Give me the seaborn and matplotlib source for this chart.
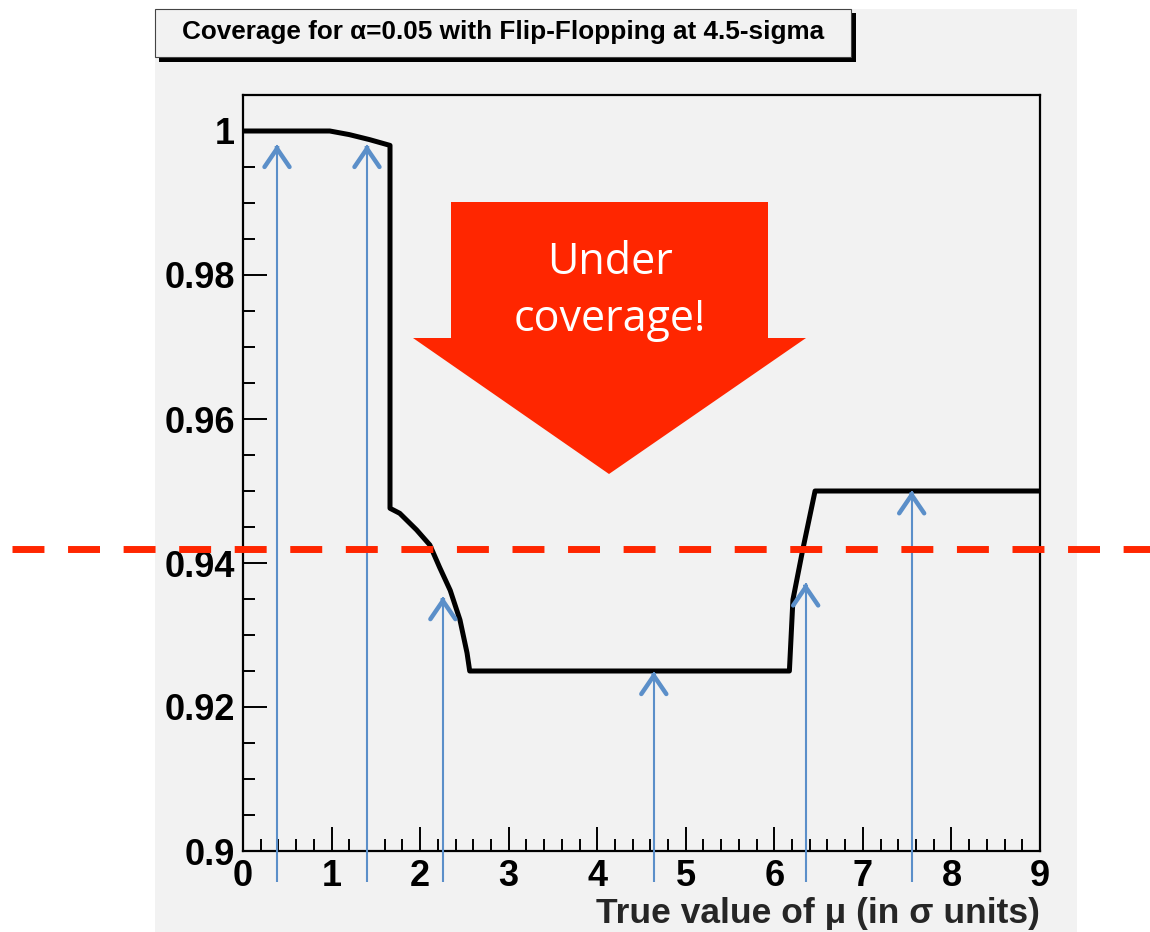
import numpy as np
import pandas as pd
import matplotlib
matplotlib.use("Agg")
import matplotlib.pyplot as plt
import matplotlib.transforms as mtransforms
from matplotlib.patches import Rectangle, Polygon
from matplotlib.ticker import FixedLocator, FixedFormatter, MultipleLocator
import seaborn as sns

# ---------------- data ----------------
mu = [0.0, 0.98, 1.2, 1.43, 1.66, 1.66, 1.77, 1.96, 2.11, 2.22, 2.34, 2.45,
      2.53, 2.56, 6.17, 6.21, 6.32, 6.46, 9.0]
coverage = [1.0, 1.0, 0.9995, 0.9988, 0.9980, 0.9476, 0.9469, 0.9446, 0.9425,
            0.9394, 0.9362, 0.9321, 0.9275, 0.9250, 0.9250, 0.9349, 0.9418,
            0.9500, 0.9500]
ref_level = 0.942
arrow_mu = [0.384, 1.40, 2.257, 4.639, 6.354, 7.551]
arrow_tip = [0.9981, 0.9981, 0.9353, 0.9249, 0.9372, 0.9500]
arrow_base = 0.8957
x_ticks = [0, 1, 2, 3, 4, 5, 6, 7, 8, 9]
y_ticks = [0.90, 0.92, 0.94, 0.96, 0.98, 1.00]
y_tick_labels = ["0.9", "0.92", "0.94", "0.96", "0.98", "1"]
title = "Coverage for \u03b1=0.05 with Flip-Flopping at 4.5-sigma"
xlabel = "True value of \u03bc (in \u03c3 units)"
callout = "Under\ncoverage!"

df = pd.DataFrame({"mu": mu, "coverage": coverage})

# ---------------- style ----------------
sns.set_theme(style="white")
plt.rcParams["font.family"] = ["Liberation Sans", "DejaVu Sans"]

W, H = 1150, 932
fig = plt.figure(figsize=(W / 100, H / 100), dpi=100)
fig.patch.set_facecolor("white")

def fx(px):
    return px / W

def fy(py):
    return 1 - py / H

GREY = "#f2f2f2"
RED = "#ff2600"
BLUE = "#5b8fc9"

# ROOT canvas
fig.patches.append(Rectangle((fx(155), 0), fx(1077) - fx(155), fy(9),
                             transform=fig.transFigure, facecolor=GREY,
                             edgecolor="none", zorder=-10))

ax = fig.add_axes([fx(243), fy(851), fx(1040) - fx(243), fy(95) - fy(851)])
ax.set_facecolor(GREY)

sns.lineplot(data=df, x="mu", y="coverage", ax=ax, sort=False, estimator=None,
             color="black", linewidth=3.6, zorder=3)

ax.set_xlim(0, 9)
ax.set_ylim(0.9, 1.005)
ax.xaxis.set_major_locator(FixedLocator(x_ticks))
ax.xaxis.set_minor_locator(MultipleLocator(0.2))
ax.yaxis.set_major_locator(FixedLocator(y_ticks))
ax.yaxis.set_major_formatter(FixedFormatter(y_tick_labels))
ax.yaxis.set_minor_locator(MultipleLocator(0.005))
ax.tick_params(axis="both", which="both", direction="in", colors="black",
               bottom=True, left=True, top=False, right=False, width=1.4)
ax.tick_params(axis="both", which="major", length=17.5, labelsize=26, pad=6)
ax.tick_params(axis="both", which="minor", length=8.5)
for lab in ax.get_xticklabels() + ax.get_yticklabels():
    lab.set_fontweight("bold")
for sp in ax.spines.values():
    sp.set_color("black")
    sp.set_linewidth(1.6)
    sp.set_visible(True)

ax.set_xlabel(xlabel, fontsize=25.5, fontweight="bold", loc="right", labelpad=2)
ax.set_ylabel("")

# blue arrows (thin shaft + chevron head)
for xm, yt in zip(arrow_mu, arrow_tip):
    ax.plot([xm, xm], [arrow_base, yt], color=BLUE, lw=1.5, clip_on=False,
            zorder=5, solid_capstyle="butt")
    ax.annotate("", xy=(xm, yt), xytext=(xm, yt - 0.0003),
                arrowprops=dict(arrowstyle="->,head_length=1.1,head_width=0.75",
                                color=BLUE, lw=3.2, shrinkA=0, shrinkB=0,
                                capstyle="round", joinstyle="miter"),
                annotation_clip=False, zorder=5)

# red dashed reference line spanning the figure
blend = mtransforms.blended_transform_factory(fig.transFigure, ax.transData)
ax.plot([fx(12), 1.0], [ref_level, ref_level], transform=blend, color=RED,
        lw=5, dashes=(4.6, 3.4), clip_on=False, zorder=10,
        solid_capstyle="butt", dash_capstyle="butt")

# big red block arrow with text
arrow_px = [(451, 202), (768, 202), (768, 338), (806, 338), (609, 474),
            (413, 338), (451, 338)]
fig.patches.append(Polygon([(fx(x), fy(y)) for x, y in arrow_px], closed=True,
                           transform=fig.transFigure, facecolor=RED,
                           edgecolor="none", zorder=4))
fig.text(fx(610), fy(291), callout, ha="center", va="center", color="white",
         fontsize=31, family=["Open Sans", "DejaVu Sans"], linespacing=1.38,
         zorder=6)

# ROOT title box with shadow
fig.patches.append(Rectangle((fx(159), fy(62)), fx(856) - fx(159), fy(13) - fy(62),
                             transform=fig.transFigure, facecolor="black",
                             edgecolor="none", zorder=1))
fig.patches.append(Rectangle((fx(155), fy(57)), fx(851) - fx(155), fy(9) - fy(57),
                             transform=fig.transFigure, facecolor=GREY,
                             edgecolor="#444444", lw=0.8, zorder=2))
fig.text(fx(503), fy(32), title, ha="center", va="center", fontsize=18.8,
         fontweight="bold", color="black", zorder=3)

fig.savefig("out.png", dpi=100)
